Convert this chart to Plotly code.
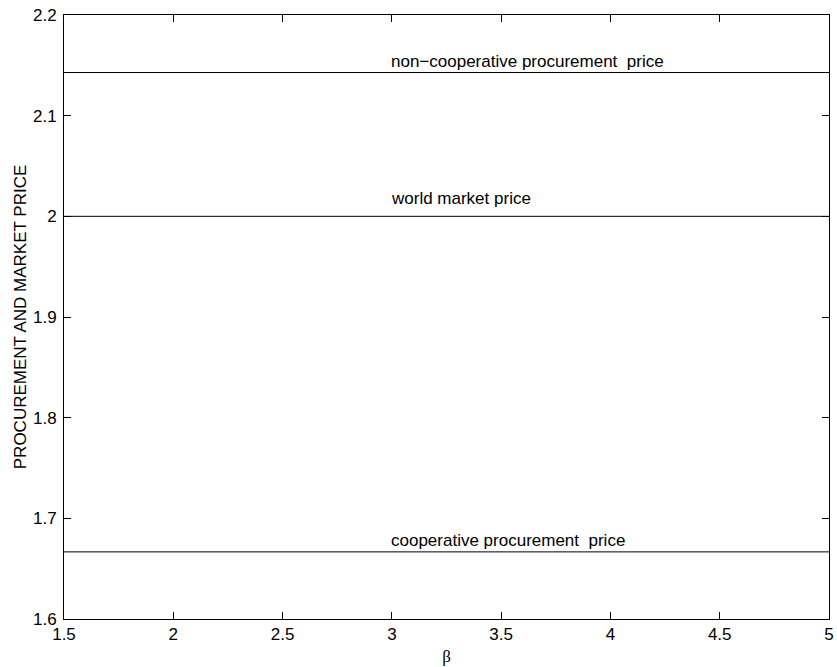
import plotly.graph_objects as go

beta = [1.5, 5]
noncoop_price = [15/7, 15/7]
world_price = [2.0, 2.0]
coop_price = [5/3, 5/3]
labels = ["non\u2212cooperative procurement  price", "world market price", "cooperative procurement  price"]
label_shift = [0, 6, 0]
label_x = 3
xticks = [1.5, 2, 2.5, 3, 3.5, 4, 4.5, 5]
yticks = [1.6, 1.7, 1.8, 1.9, 2.0, 2.1, 2.2]

FONT = "Liberation Sans, Arial"
fig = go.Figure()
for ys in [noncoop_price, world_price, coop_price]:
    fig.add_trace(go.Scatter(x=beta, y=ys, mode="lines", line=dict(color="black", width=1), showlegend=False))

for lab, ys, sh in zip(labels, [noncoop_price, world_price, coop_price], label_shift):
    fig.add_annotation(x=label_x, y=ys[0], text=lab, showarrow=False, xanchor="left", yanchor="bottom",
                       yshift=sh, xshift=-3, font=dict(size=17, color="black", family=FONT))

axis_common = dict(showgrid=False, zeroline=False, showline=True, linecolor="black", linewidth=1,
                   mirror="ticks", ticks="inside", ticklen=7, tickcolor="black", automargin=False,
                   ticklabeloverflow="allow",
                   tickfont=dict(size=17, color="black", family=FONT))
fig.update_xaxes(range=[1.5, 5], tickvals=xticks, ticktext=[f"{v:g}" for v in xticks],
                 title=dict(text="\u03b2", font=dict(size=17, color="black", family="Liberation Serif, Times New Roman"), standoff=6),
                 **axis_common)
fig.update_yaxes(range=[1.6, 2.2], tickvals=yticks, ticktext=[f"{v:g}" for v in yticks],
                 ticklabelstandoff=3,
                 title=dict(text="PROCUREMENT AND MARKET PRICE", font=dict(size=17, color="black", family=FONT), standoff=2),
                 **axis_common)
fig.update_layout(width=837, height=667, margin=dict(l=64, r=8, t=15, b=48),
                  plot_bgcolor="white", paper_bgcolor="white", hovermode=False,
                  font=dict(family=FONT, color="black"))
fig.write_html("out.html", config={"displayModeBar": False, "staticPlot": True},
               post_script="document.body.style.margin='0';document.body.style.overflow='hidden';")
